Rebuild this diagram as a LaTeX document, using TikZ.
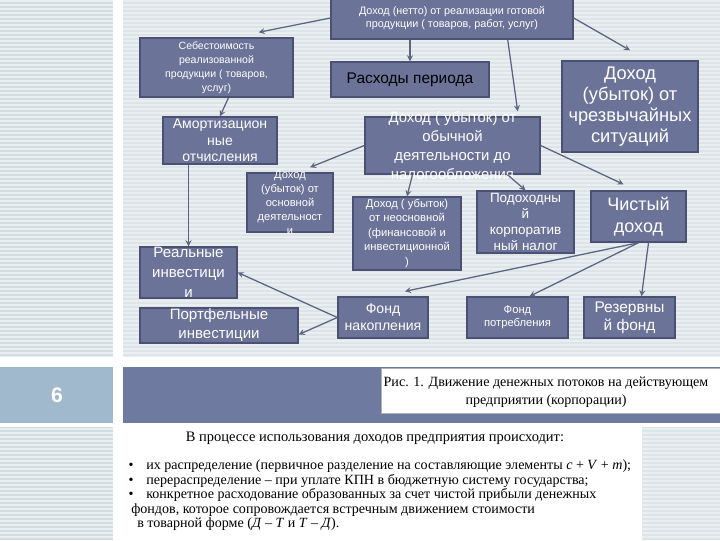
\documentclass[tikz,border=0pt]{standalone}
\usepackage{fontspec}
\setmainfont{Liberation Serif}
\newfontfamily\arial{Liberation Sans}
\usetikzlibrary{calc,fit,arrows}

\definecolor{blokfill}{HTML}{6B7399}
\definecolor{blokline}{HTML}{4A5173}
\definecolor{strelka}{HTML}{5B6483}
\definecolor{fonL}{HTML}{D3DDE1}
\definecolor{fonR}{HTML}{DCE4E7}
\definecolor{polosa}{HTML}{E9EEF0}
\definecolor{barL}{HTML}{A1B9CD}
\definecolor{barR}{HTML}{6F7AA0}

\newcommand\fnt[2]{\arial\fontsize{#1}{#2}\selectfont}

\begin{document}
\begin{tikzpicture}[x=0.025cm, y=-0.025cm,
	blok/.style={draw=blokline, fill=blokfill, line width=1pt, inner sep=0pt},
	txt/.style={text=white, align=center, inner sep=0pt},
	link/.style={draw=strelka, line width=0.9pt, -stealth},
	stripe/.style={draw=polosa, line width=0.9pt}
	]
	\useasboundingbox (0,0) rectangle (720,540);
	% background of the slide
	\fill[fonR] (0,0) rectangle (720,540);
	\fill[fonL] (0,0) rectangle (113,540);
	\foreach \y in {1,5,...,540}
		\draw[stripe] (0,\y) -- (720,\y);
	\fill[white] (113,0) rectangle (123,540);
	\fill[white] (0,357) rectangle (720,367);
	\fill[white] (0,423) rectangle (720,427);
	\fill[barL] (0,367) rectangle (113,423);
	\fill[barR] (123,367) rectangle (720,423);
	\node[font=\arial\bfseries\fontsize{15}{17}\selectfont, text=white] (nomer) at (57,395) {6};

	% boxes
	\node[blok, fit={(331,-3) (573,39)}, label={[txt,font=\fnt{7.7}{9.8}]center:{Доход (нетто) от реализации готовой\\продукции ( товаров, работ, услуг)}}] (dohod) {};
	\node[blok, fit={(140,38) (293,97)}, label={[txt,font=\fnt{7.5}{10}]center:{Себестоимость\\реализованной\\продукции ( товаров,\\услуг)}}] (sebest) {};
	\node[blok, fit={(331,62) (489,97)}, label={[txt,text=black,font=\fnt{11}{13}]center:{Расходы периода}}] (rashod) {};
	\node[blok, fit={(562,61) (698,152)}, label={[txt,font=\fnt{13}{15}]center:{Доход\\(убыток) от\\чрезвычайных\\ситуаций}}] (chs) {};
	\node[blok, fit={(163,117) (277,164)}, label={[txt,font=\fnt{10}{11.7}]center:{Амортизацион\\ные\\отчисления}}] (amort) {};
	\node[blok, fit={(365,117) (540,174)}, label={[txt,font=\fnt{10.6}{13.7}]center:{Доход ( убыток) от\\обычной\\деятельности до\\налогообложения}}] (obych) {};
	\node[blok, fit={(247,173) (333,232)}, label={[txt,font=\fnt{7.9}{10}]center:{Доход\\(убыток) от\\основной\\деятельност\\и}}] (osn) {};
	\node[blok, fit={(353,197) (461,270)}, label={[txt,font=\fnt{8}{10.3}]center:{Доход ( убыток)\\от неосновной\\(финансовой и\\инвестиционной\\)}}] (neosn) {};
	\node[blok, fit={(477,191) (574,253)}, label={[txt,font=\fnt{9.6}{11.5}]center:{Подоходны\\й\\корпоратив\\ный налог}}] (nalog) {};
	\node[blok, fit={(591,191) (686,242)}, label={[txt,font=\fnt{12.8}{15.6}]center:{Чистый\\доход}}] (chist) {};
	\node[blok, fit={(140,247) (237,298)}, label={[txt,font=\fnt{10.7}{14}]center:{Реальные\\инвестици\\и}}] (real) {};
	\node[blok, fit={(140,308) (298,343)}, label={[txt,font=\fnt{10.7}{13.5}]center:{Портфельные\\инвестиции}}] (portf) {};
	\node[blok, fit={(338,297) (428,338)}, label={[txt,font=\fnt{10}{12}]center:{Фонд\\накопления}}] (nakop) {};
	\node[blok, fit={(467,297) (568,338)}, label={[txt,font=\fnt{8}{9.5}]center:{Фонд\\потребления}}] (potr) {};
	\node[blok, fit={(584,297) (675,338)}, label={[txt,font=\fnt{11}{12.8}]center:{Резервны\\й фонд}}] (rezerv) {};

	% connectors
	\draw[link] (dohod.west) -- ($(sebest.north east)+(-35,-5)$);
	\draw[link] (dohod.south -| rashod.north) -- (rashod.north);
	\draw[link] ($(dohod.south east)+(-66,0)$) -- ($(obych.north east)+(-23,-5)$);
	\draw[link] (dohod.east) -- ($(chs.north)+(0,-10)$);
	\draw[link] ($(sebest.south)+(12,0)$) -- (amort.north);
	\draw[link] (real.north |- amort.south) -- (real.north);
	\draw[link] (obych.west) -- ($(osn.north)+(20,-5)$);
	\draw[link] ($(obych.south)+(-40,0)$) -- (neosn.north);
	\draw[link] ($(obych.south)+(55,0)$) -- (nalog.north);
	\draw[link] (obych.east) -- ($(chist.north)+(-15,-6)$);
	\draw[link] (chist.south) -- ($(nakop.north)+(22,-5)$);
	\draw[link] (chist.south) -- ($(potr.north)+(12,0)$);
	\draw[link] ($(chist.south)+(10,0)$) -- ($(rezerv.north)+(12,0)$);
	\draw[link] (nakop.west) -- (real.east);
	\draw[link] (nakop.west) -- ($(portf.east)+(0,9)$);

	% caption of the figure
	\node[draw=gray!60, fill=white, line width=0.4pt, inner sep=0pt, fit={(381,368) (722,413)}] (risunok) {};
	\node[font=\fontsize{10}{13}\selectfont, align=center] (podpis) at (546,392) {Рис. 1. Движение денежных потоков на действующем\\предприятии (корпорации)};

	% text below
	\fill[white] (123,427) rectangle (642,540);
	\node[anchor=base, font=\fontsize{10.3}{12}\selectfont] (zagolovok) at (375,441) {В процессе использования доходов предприятия происходит:};
	\foreach \y/\x/\stroka in {
		469/146/{\llap{\textbullet\hspace{9pt}}их распределение (первичное разделение на составляющие элементы \textit{c} + \textit{V} + \textit{m});},
		484/146/{\llap{\textbullet\hspace{9pt}}перераспределение – при уплате КПН в бюджетную систему государства;},
		498/146/{\llap{\textbullet\hspace{9pt}}конкретное расходование образованных за счет чистой прибыли денежных},
		513/131/{фондов, которое сопровождается встречным движением стоимости},
		527/137/{в товарной форме (\textit{Д} – \textit{Т} и \textit{Т} – \textit{Д}).}}
	{
		\node[anchor=base west, inner sep=0pt, font=\fontsize{10}{12}\selectfont] (stroka\y) at (\x,\y) {\stroka};
	}
\end{tikzpicture}
\end{document}
